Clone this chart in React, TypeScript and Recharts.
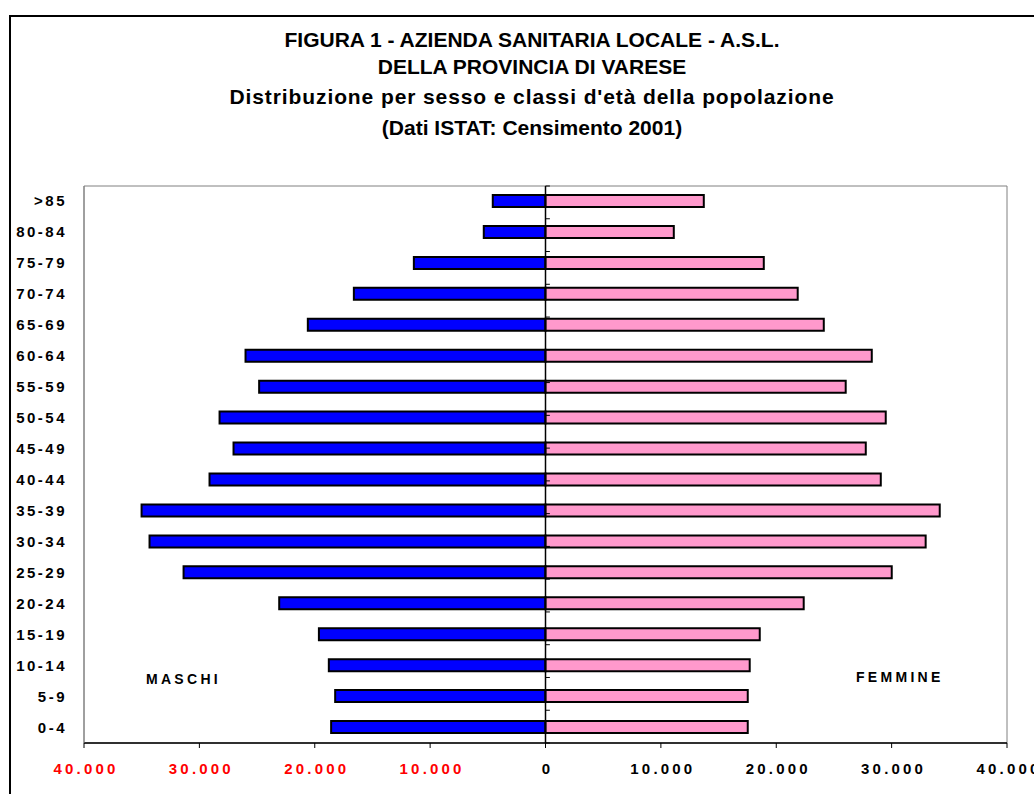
import React from 'react'
import {
  BarChart, Bar, XAxis, YAxis, ReferenceLine, ReferenceArea,
} from 'recharts'

// classi d'età, dall'alto verso il basso
const AGE_CLASSES = [
  '>85', '80-84', '75-79', '70-74', '65-69', '60-64', '55-59', '50-54', '45-49',
  '40-44', '35-39', '30-34', '25-29', '20-24', '15-19', '10-14', '5-9', '0-4',
]
const MASCHI = [
  4570, 5350, 11410, 16610, 20600, 26000, 24820, 28250, 27040,
  29120, 35010, 34320, 31370, 23080, 19640, 18780, 18230, 18580,
]
const FEMMINE = [
  13720, 11120, 18920, 21860, 24120, 28280, 26020, 29490, 27760,
  29060, 34170, 32950, 30010, 22380, 18570, 17700, 17530, 17530,
]
const X_TICKS = [-40000, -30000, -20000, -10000, 0, 10000, 20000, 30000, 40000]
const TITLE_LINES = [
  'FIGURA 1 - AZIENDA SANITARIA LOCALE - A.S.L.',
  'DELLA PROVINCIA DI VARESE',
  "Distribuzione per sesso e classi d'età della popolazione",
  '(Dati ISTAT: Censimento 2001)',
]

const data = AGE_CLASSES.map((c, i) => ({ classe: c, maschi: -MASCHI[i], femmine: FEMMINE[i] }))
// confini tra le classi (per i trattini sull'asse centrale)
const boundaries = AGE_CLASSES.map((_, i) => i).concat(AGE_CLASSES.length)

const FONT = '"Liberation Sans", Arial, sans-serif'
const fmt = (v: number) => Math.abs(v).toLocaleString('it-IT').replace(/,/g, '.')

function AgeTick(props: any) {
  const { x, y, payload } = props
  return (
    <text x={x} y={y} dy={5} textAnchor="end" fontFamily={FONT} fontSize={15}
      fontWeight="bold" letterSpacing={2.5} fill="#000">
      {payload.value}
    </text>
  )
}

function ValueTick(props: any) {
  const { x, y, payload } = props
  return (
    <text x={x + 2} y={y} dy={24} textAnchor="middle" fontFamily={FONT} fontSize={15}
      fontWeight="bold" letterSpacing={3.2} fill={payload.value < 0 ? '#ff0000' : '#000'}>
      {fmt(payload.value)}
    </text>
  )
}

const textStyle: React.CSSProperties = {
  position: 'absolute', fontFamily: FONT, fontWeight: 'bold', color: '#000', whiteSpace: 'nowrap',
}

export default function App() {
  return (
    <div style={{ position: 'absolute', left: 0, top: 0, width: 1034, height: 794, overflow: 'hidden', background: '#fff' }}>
      <div style={{ position: 'absolute', left: 9, top: 15, width: 1100, height: 900, border: '2px solid #000' }} />
      {TITLE_LINES.map((t, i) => (
        <div key={i} style={{
          ...textStyle, left: 0, width: 1064, textAlign: 'center', fontSize: 21,
          letterSpacing: i === 2 ? 0.9 : 0, top: [28, 55, 85, 116][i], lineHeight: '24px',
        }}>{t}</div>
      ))}
      <div style={{ position: 'absolute', left: 0, top: 0 }}>
        <BarChart width={1034} height={794} data={data} layout="vertical" stackOffset="sign"
          margin={{ top: 186, right: 27, left: 0, bottom: 0 }}>
          <ReferenceArea x1={-40000} x2={40000} fill="none" stroke="#808080" strokeWidth={1} ifOverflow="visible" />
          <XAxis type="number" domain={[-40000, 40000]} ticks={X_TICKS} height={51}
            axisLine={{ stroke: '#000', strokeWidth: 1.5 }} tickLine={{ stroke: '#000' }}
            tickSize={5} tick={<ValueTick />} interval={0} />
          <YAxis type="category" dataKey="classe" width={84} tickSize={0} tickMargin={17}
            axisLine={{ stroke: '#808080' }} tickLine={false} tick={<AgeTick />} interval={0} />
          <YAxis yAxisId="b" type="number" domain={[0, AGE_CLASSES.length]} hide reversed />
          <Bar dataKey="maschi" stackId="p" fill="#0000ff" stroke="#000" strokeWidth={2} barSize={12} isAnimationActive={false} />
          <Bar dataKey="femmine" stackId="p" fill="#ff99cc" stroke="#000" strokeWidth={2} barSize={12} isAnimationActive={false} />
          <ReferenceLine x={0} stroke="#000" strokeWidth={1.5} />
          {boundaries.map((b) => (
            <ReferenceLine key={b} yAxisId="b" stroke="#000" strokeWidth={1}
              segment={[{ x: 0, y: b }, { x: 380, y: b }]} />
          ))}
        </BarChart>
      </div>
      <div style={{ ...textStyle, left: 146, top: 671, fontSize: 14, letterSpacing: 3.3 }}>MASCHI</div>
      <div style={{ ...textStyle, left: 856, top: 669, fontSize: 14, letterSpacing: 3.3 }}>FEMMINE</div>
    </div>
  )
}
